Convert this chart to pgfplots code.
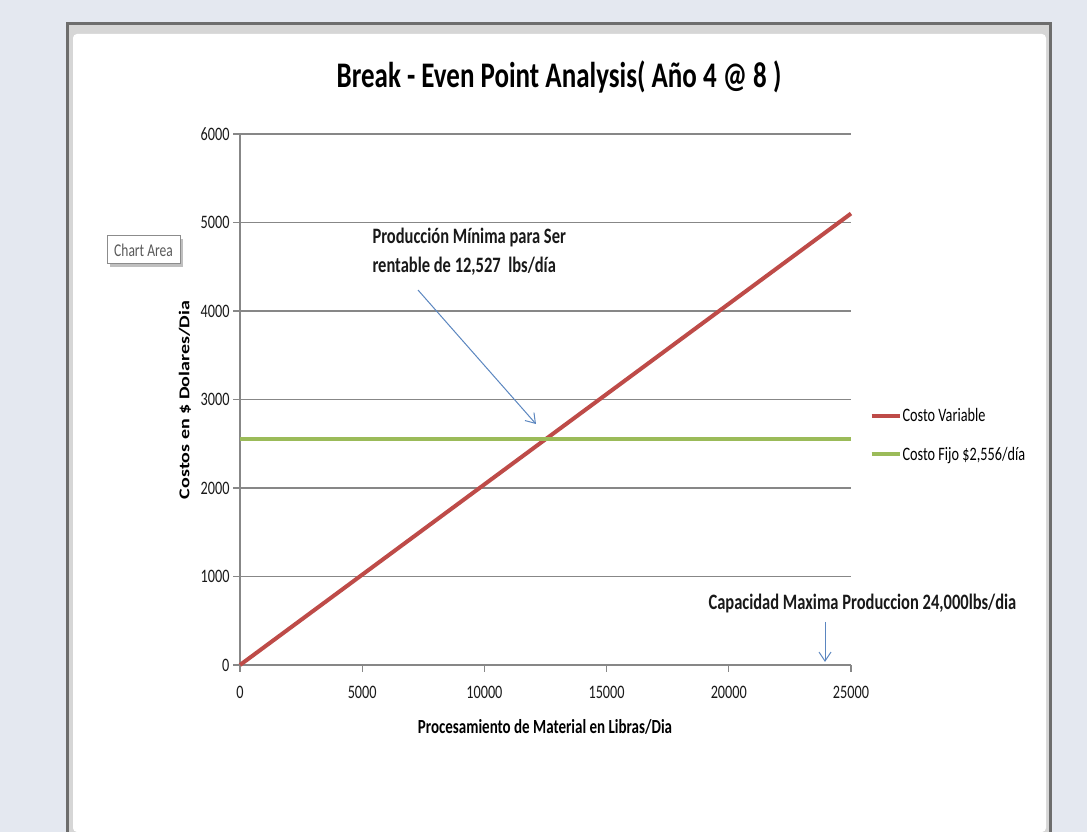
\documentclass[border=0pt]{standalone}
\usepackage{pgfplots}
\pgfplotsset{compat=1.18}
\usepackage{fontspec}
\usetikzlibrary{arrows.meta}
\setmainfont{Carlito}
\newfontfamily\cond[FakeStretch=0.75]{Carlito}
\definecolor{bgc}{HTML}{E4E8F0}
\definecolor{redline}{HTML}{BE4B48}
\definecolor{greenline}{HTML}{9BBB59}
\definecolor{arrowblue}{HTML}{5B86C0}
\definecolor{axgray}{HTML}{878787}
\definecolor{frameDark}{HTML}{6D6D6D}
\definecolor{frameLight}{HTML}{D6D6D6}
\begin{document}
\begin{tikzpicture}[x=1pt,y=1pt]
\useasboundingbox (0,0) rectangle (1087,832);
\fill[bgc] (0,0) rectangle (1087,832);
\fill[frameDark] (66,0) rectangle (1052,810);
\fill[frameLight] (69,0) rectangle (1049,807);
\fill[white, rounded corners=4pt] (73,0) rectangle (1046,798);
% Chart Area tooltip
\fill[black!25] (110,565) rectangle (183,593);
\draw[black!45, fill=white, line width=1pt] (107,568) rectangle (180,596);
\node[text=black!65, font=\cond\fontsize{18}{20}\selectfont] at (143.5,582) {Chart Area};
\begin{axis}[
  at={(240pt,167pt)}, anchor=south west, scale only axis,
  width=611pt, height=531pt,
  xmin=0, xmax=25000, ymin=0, ymax=6000,
  xtick={0,5000,10000,15000,20000,25000},
  ytick={0,1000,2000,3000,4000,5000,6000},
  axis lines*=left,
  axis line style={draw=axgray, line width=1.5pt},
  ymajorgrids, major grid style={draw=axgray, line width=1.5pt},
  tick align=outside, major tick length=7pt,
  every tick/.style={draw=axgray, line width=1.2pt},
  scaled ticks=false,
  /pgf/number format/1000 sep={},
  /pgf/number format/assume math mode=true,
  tick label style={font=\cond\fontsize{19}{22}\selectfont, text=black!90},
  xticklabel style={yshift=-11pt},
  yticklabel style={xshift=0pt},
  clip=false,
  legend style={draw=none, fill=none, at={(1.030,0.433)}, anchor=west,
    font=\cond\fontsize{19}{22}\selectfont, row sep=22pt, inner sep=0pt,
    nodes={inner sep=1pt}},
  legend cell align=left,
  legend image code/.code={\draw[#1] (0pt,0pt) -- (28pt,0pt);},
]
\addplot[color=redline, line width=4pt] coordinates {(0,0) (25000,5101)};
\addlegendentry{Costo Variable}
\addplot[color=greenline, line width=4pt] coordinates {(0,2556) (25000,2556)};
\addlegendentry{Costo Fijo \$2,556/día}
\draw[arrowblue, line width=1pt, -{Straight Barb[length=9pt,width=12pt]}] (axis cs:7283,4237) -- (axis cs:12111,2723);
\draw[arrowblue, line width=1pt, -{Straight Barb[length=9pt,width=12pt]}] (axis cs:23936,486) -- (axis cs:23936,34);
\end{axis}
% title
\node[font=\cond\bfseries\fontsize{36}{40}\selectfont] at (559,755) {Break - Even Point Analysis( Año 4 @ 8 )};
% annotations
\node[anchor=west, font=\cond\bfseries\fontsize{22}{28}\selectfont, text=black!90] at (369,594) {Producción Mínima para Ser};
\node[anchor=west, font=\cond\bfseries\fontsize{22}{28}\selectfont, text=black!90] at (369,566) {rentable de 12,527\ \ lbs/día};
\node[anchor=west, font=\cond\bfseries\fontsize{22}{28}\selectfont, text=black!90] at (705,228) {Capacidad Maxima Produccion 24,000lbs/dia};
% axis labels
\node[font=\cond\bfseries\fontsize{20}{24}\selectfont] at (545,105) {Procesamiento de Material en Libras/Dia};
\node at (185,432) {\rotatebox{90}{\scalebox{1}[0.75]{\bfseries\fontsize{20}{24}\selectfont Costos en \$ Dolares/Dia}}};
\end{tikzpicture}
\end{document}
